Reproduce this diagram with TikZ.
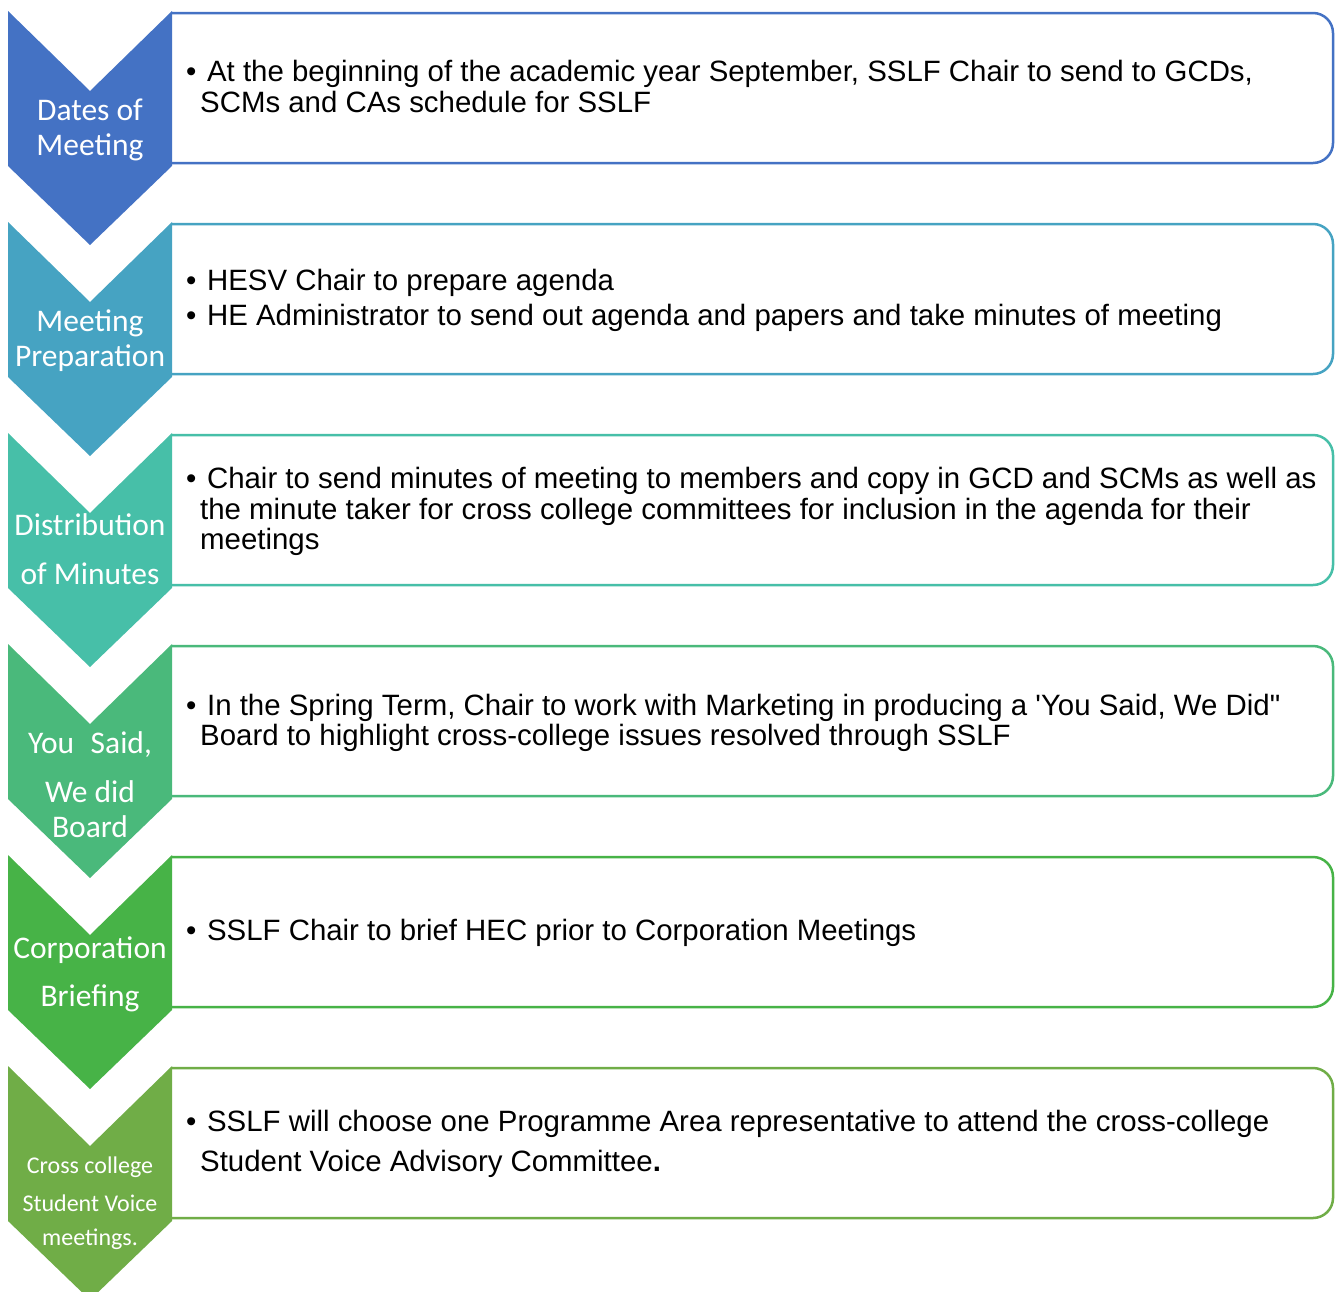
\documentclass[tikz,border=0pt]{standalone}
\usepackage{fontspec}
\setmainfont{Liberation Sans}[Ligatures=TeXOff]
\newfontfamily\chevfont{Carlito}
\definecolor{cA}{HTML}{4472C4}
\definecolor{cB}{HTML}{46A3C2}
\definecolor{cC}{HTML}{47BFA8}
\definecolor{cD}{HTML}{4AB97B}
\definecolor{cE}{HTML}{47B347}
\definecolor{cF}{HTML}{70AD47}
\tikzset{
  bodytext/.style={anchor=base west,inner sep=0pt,font=\fontsize{29.4}{30}\selectfont,text=black},
  chevtext/.style={anchor=base,inner sep=0pt,font=\chevfont\fontsize{31.5}{33}\selectfont,text=white},
  chevsmall/.style={anchor=base,inner sep=0pt,font=\chevfont\fontsize{24}{26}\selectfont,text=white},
  stagebox/.style={draw=#1,fill=white,line width=2.5pt,rounded corners=20pt},
}
\newcommand{\chevronat}[2]{%
  \fill[#2] (8,#1) -- (90,#1+80) -- (172,#1) -- (172,#1+155) -- (90,#1+234) -- (8,#1+155) -- cycle;}
\newcommand{\stageboxat}[2]{%
  \draw[stagebox=#2] (172,#1) -- (1333,#1) -- (1333,#1+150) -- (172,#1+150);}
\newcommand{\bul}{•\hspace{10.6pt}}
\begin{document}
\begin{tikzpicture}[x=1pt,y=-1pt]
\useasboundingbox (0,0) rectangle (1338,1291);
\clip (0,0) rectangle (1338,1291);
% boxes
\stageboxat{13}{cA}
\stageboxat{224}{cB}
\stageboxat{435}{cC}
\stageboxat{646}{cD}
\stageboxat{857}{cE}
\stageboxat{1068}{cF}
% chevrons
\chevronat{11}{cA}
\chevronat{222}{cB}
\chevronat{433}{cC}
\chevronat{644}{cD}
\chevronat{855}{cE}
\chevronat{1066}{cF}
% chevron labels
\node[chevtext] (l1a) at (90,120) {Dates of};
\node[chevtext] (l1b) at (90,155) {Meeting};
\node[chevtext] (l2a) at (90,331) {Meeting};
\node[chevtext] (l2b) at (90,366) {Preparation};
\node[chevtext] (l3a) at (90,535) {Distribution};
\node[chevtext] (l3b) at (90,584) {of Minutes};
\node[chevtext] (l4a) at (90,753) {You\hspace{0.3em} Said,};
\node[chevtext] (l4b) at (90,802) {We did};
\node[chevtext] (l4c) at (90,837) {Board};
\node[chevtext] (l5a) at (90,958) {Corporation};
\node[chevtext] (l5b) at (90,1006) {Briefing};
\node[chevsmall] (l6a) at (90,1173) {Cross college};
\node[chevsmall] (l6b) at (90,1211) {Student Voice};
\node[chevsmall] (l6c) at (90,1245) {meetings.};
% body texts
\node[bodytext] (t1a) at (186,81.5) {\bul At the beginning of the academic year September, SSLF Chair to send to GCDs,};
\node[bodytext] (t1b) at (200,112.5) {SCMs and CAs schedule for SSLF};
\node[bodytext] (t2a) at (186,290.5) {\bul HESV Chair to prepare agenda};
\node[bodytext] (t2b) at (186,325.5) {\bul HE Administrator to send out agenda and papers and take minutes of meeting};
\node[bodytext] (t3a) at (186,488.5) {\bul Chair to send minutes of meeting to members and copy in GCD and SCMs as well as};
\node[bodytext] (t3b) at (200,519.5) {the minute taker for cross college committees for inclusion in the agenda for their};
\node[bodytext] (t3c) at (200,549.5) {meetings};
\node[bodytext] (t4a) at (186,715.5) {\bul In the Spring Term, Chair to work with Marketing in producing a 'You Said, We Did"};
\node[bodytext] (t4b) at (200,745.5) {Board to highlight cross-college issues resolved through SSLF};
\node[bodytext] (t5a) at (186,940) {\bul SSLF Chair to brief HEC prior to Corporation Meetings};
\node[bodytext] (t6a) at (186,1131.5) {\bul SSLF will choose one Programme Area representative to attend the cross-college};
\node[bodytext] (t6b) at (200,1171.5) {Student Voice Advisory Committee{\bfseries.}};
\end{tikzpicture}
\end{document}
